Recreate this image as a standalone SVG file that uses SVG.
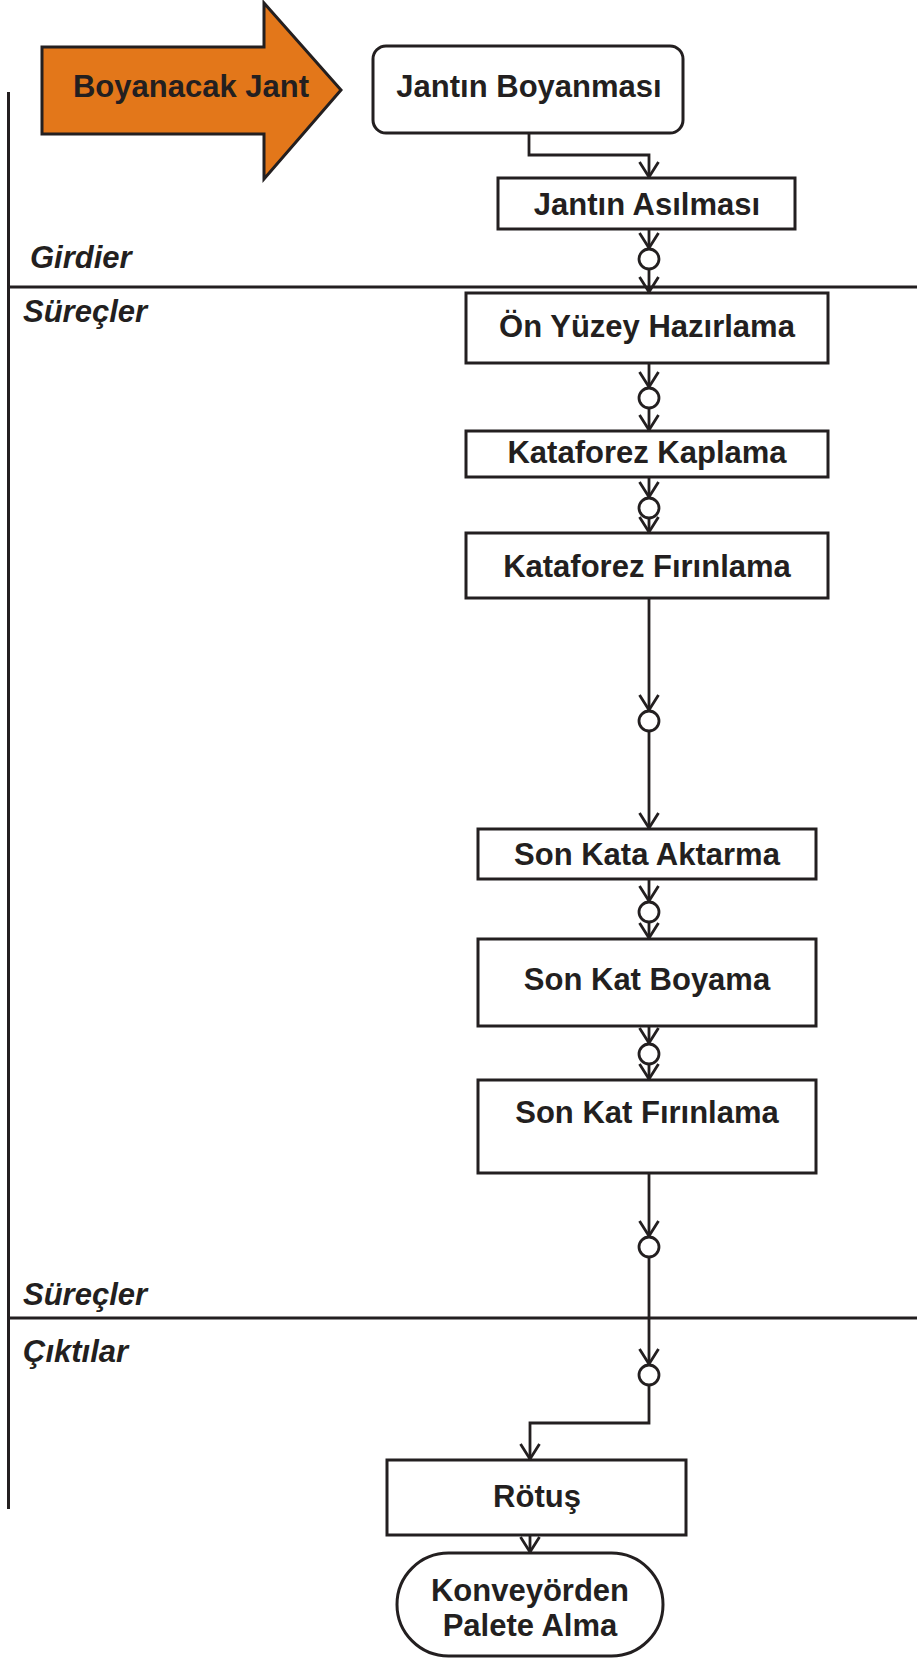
<svg xmlns="http://www.w3.org/2000/svg" width="917" height="1659" viewBox="0 0 917 1659">
  <style>
    .box { fill: #ffffff; stroke: #231f20; stroke-width: 3; }
    .lbl { font-family: "Liberation Sans", Arial, sans-serif; font-weight: bold; font-size: 31px; fill: #231f20; text-anchor: middle; }
    .sec { font-family: "Liberation Sans", Arial, sans-serif; font-weight: bold; font-style: italic; font-size: 31px; fill: #231f20; }
    .rule { stroke: #231f20; stroke-width: 3; fill: none; }
    .wire { stroke: #231f20; stroke-width: 2.8; fill: none; }
    .wire.arr { marker-end: url(#chev); }
    .node-dot { fill: #ffffff; stroke: #231f20; stroke-width: 2.8; }
  </style>
  <defs>
    <marker id="chev" markerUnits="userSpaceOnUse" viewBox="-20 -13 22 26" refX="1" refY="0" markerWidth="22" markerHeight="26" orient="auto">
      <path d="M-15,-9.5 L0,0 L-15,9.5" fill="none" stroke="#231f20" stroke-width="2.8"/>
    </marker>
  </defs>

  <rect width="917" height="1659" fill="#ffffff"/>

  <!-- swimlane frame -->
  <g id="lanes">
    <line class="rule" x1="8.5" y1="92" x2="8.5" y2="1509" stroke-width="4"/>
    <line class="rule" x1="8" y1="287" x2="917" y2="287"/>
    <line class="rule" x1="8" y1="1318" x2="917" y2="1318"/>
    <text class="sec" x="30" y="268">Girdier</text>
    <text class="sec" x="23" y="322">Süreçler</text>
    <text class="sec" x="23" y="1305">Süreçler</text>
    <text class="sec" x="23" y="1362">Çıktılar</text>
  </g>

  <!-- input arrow -->
  <g id="boyanacak-jant">
    <polygon points="42,47 264,47 264,3 341,90 264,179 264,134 42,134" fill="#e3771a" stroke="#231f20" stroke-width="3" stroke-linejoin="miter"/>
    <text class="lbl" x="191" y="97">Boyanacak Jant</text>
  </g>

  <g id="jantin-boyanmasi">
    <rect class="box" x="373" y="46" width="310" height="87" rx="13" ry="13"/>
    <text class="lbl" x="529" y="97">Jantın Boyanması</text>
  </g>

  <g id="jantin-asilmasi">
    <rect class="box" x="498" y="178" width="297" height="51"/>
    <text class="lbl" x="647" y="215">Jantın Asılması</text>
  </g>

  <g id="on-yuzey">
    <rect class="box" x="466" y="293" width="362" height="70"/>
    <text class="lbl" x="647" y="337">Ön Yüzey Hazırlama</text>
  </g>

  <g id="kataforez-kaplama">
    <rect class="box" x="466" y="431" width="362" height="46"/>
    <text class="lbl" x="647" y="463">Kataforez Kaplama</text>
  </g>

  <g id="kataforez-firinlama">
    <rect class="box" x="466" y="533" width="362" height="65"/>
    <text class="lbl" x="647" y="577">Kataforez Fırınlama</text>
  </g>

  <g id="son-kata-aktarma">
    <rect class="box" x="478" y="829" width="338" height="50"/>
    <text class="lbl" x="647" y="865">Son Kata Aktarma</text>
  </g>

  <g id="son-kat-boyama">
    <rect class="box" x="478" y="939" width="338" height="87"/>
    <text class="lbl" x="647" y="990">Son Kat Boyama</text>
  </g>

  <g id="son-kat-firinlama">
    <rect class="box" x="478" y="1080" width="338" height="93"/>
    <text class="lbl" x="647" y="1123">Son Kat Fırınlama</text>
  </g>

  <g id="rotus">
    <rect class="box" x="387" y="1460" width="299" height="75"/>
    <text class="lbl" x="537" y="1507">Rötuş</text>
  </g>

  <g id="konveyorden-palete-alma">
    <rect class="box" x="397" y="1553" width="266" height="103" rx="51.5" ry="51.5"/>
    <text class="lbl" x="530" y="1601">Konveyörden</text>
    <text class="lbl" x="530" y="1636">Palete Alma</text>
  </g>

  <!-- connectors -->
  <g id="connectors">
    <path class="wire arr" d="M529,133 V155 H649 V178"/>
    <path class="wire arr" d="M649,229 V249"/>
    <path class="wire arr" d="M649,269 V293"/>
    <path class="wire arr" d="M649,363 V388"/>
    <path class="wire arr" d="M649,408 V431"/>
    <path class="wire arr" d="M649,477 V498"/>
    <path class="wire arr" d="M649,518 V533"/>
    <path class="wire arr" d="M649,598 V711"/>
    <path class="wire arr" d="M649,731 V829"/>
    <path class="wire arr" d="M649,879 V902"/>
    <path class="wire arr" d="M649,922 V939"/>
    <path class="wire arr" d="M649,1026 V1044"/>
    <path class="wire arr" d="M649,1064 V1080"/>
    <path class="wire arr" d="M649,1173 V1237"/>
    <path class="wire arr" d="M649,1257 V1365"/>
    <path class="wire arr" d="M649,1385 V1423 H530 V1460"/>
    <path class="wire arr" d="M530,1535 V1553"/>
    <circle class="node-dot" cx="649" cy="259" r="10"/>
    <circle class="node-dot" cx="649" cy="398" r="10"/>
    <circle class="node-dot" cx="649" cy="508" r="10"/>
    <circle class="node-dot" cx="649" cy="721" r="10"/>
    <circle class="node-dot" cx="649" cy="912" r="10"/>
    <circle class="node-dot" cx="649" cy="1054" r="10"/>
    <circle class="node-dot" cx="649" cy="1247" r="10"/>
    <circle class="node-dot" cx="649" cy="1375" r="10"/>
  </g>
</svg>
